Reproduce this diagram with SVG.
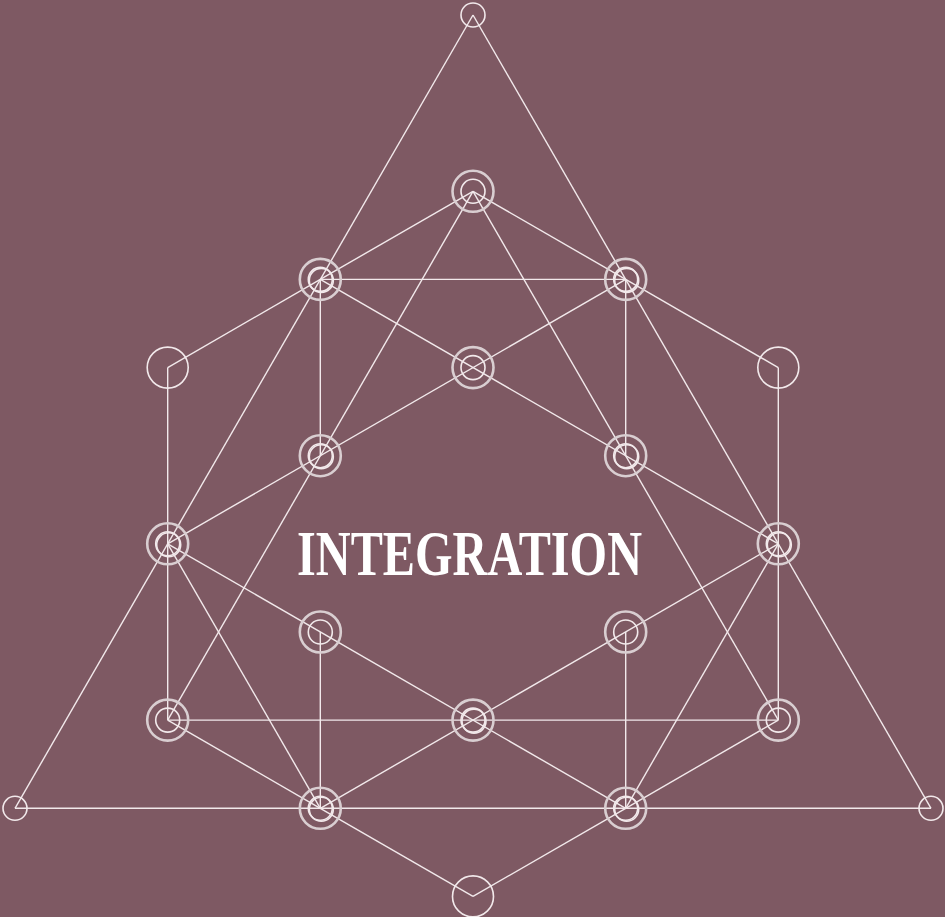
<svg xmlns="http://www.w3.org/2000/svg" width="945" height="917" viewBox="0 0 945 917">
<style>
.ln{stroke:#f2e9eb;stroke-width:1.4;fill:none}
.o{fill:none;stroke:#d9ced1;stroke-width:2.6}
.i{fill:none;stroke:#f2e9eb;stroke-width:1.6}
.s{fill:none;stroke:#f2e9eb;stroke-width:1.6}
.t{font-family:"Liberation Serif","DejaVu Serif",serif;font-size:64px;fill:#ffffff;font-weight:bold}
</style>
<rect width="945" height="917" fill="#7e5963"/>
<g id="connectors" class="ln">
<line x1="473" y1="15" x2="15" y2="808.3"/>
<line x1="473" y1="15" x2="931" y2="808.3"/>
<line x1="15" y1="808.3" x2="931" y2="808.3"/>
<line x1="473" y1="191.3" x2="167.7" y2="720.1"/>
<line x1="473" y1="191.3" x2="778.3" y2="720.1"/>
<line x1="167.7" y1="720.1" x2="778.3" y2="720.1"/>
<line x1="167.7" y1="543.8" x2="320.3" y2="808.3"/>
<line x1="778.3" y1="543.8" x2="625.7" y2="808.3"/>
<line x1="167.7" y1="367.6" x2="167.7" y2="720.1"/>
<line x1="778.3" y1="367.6" x2="778.3" y2="720.1"/>
<line x1="320.3" y1="279.4" x2="320.3" y2="455.7"/>
<line x1="625.7" y1="279.4" x2="625.7" y2="455.7"/>
<line x1="320.3" y1="632" x2="320.3" y2="808.3"/>
<line x1="625.7" y1="632" x2="625.7" y2="808.3"/>
<line x1="320.3" y1="279.4" x2="625.7" y2="279.4"/>
<line x1="473" y1="191.3" x2="320.3" y2="279.4"/>
<line x1="473" y1="191.3" x2="625.7" y2="279.4"/>
<line x1="167.7" y1="367.6" x2="320.3" y2="279.4"/>
<line x1="778.3" y1="367.6" x2="625.7" y2="279.4"/>
<line x1="320.3" y1="279.4" x2="778.3" y2="543.8"/>
<line x1="625.7" y1="279.4" x2="167.7" y2="543.8"/>
<line x1="167.7" y1="543.8" x2="625.7" y2="808.3"/>
<line x1="778.3" y1="543.8" x2="320.3" y2="808.3"/>
<line x1="167.7" y1="720.1" x2="320.3" y2="808.3"/>
<line x1="778.3" y1="720.1" x2="625.7" y2="808.3"/>
<line x1="320.3" y1="808.3" x2="473" y2="896.4"/>
<line x1="625.7" y1="808.3" x2="473" y2="896.4"/>
</g>
<g id="n-top"><circle class="s" cx="473" cy="15" r="12"/></g>
<g id="n-b"><circle class="o" cx="473" cy="191.3" r="20.5"/><circle class="i" cx="473" cy="191.3" r="12"/></g>
<g id="n-c1"><circle class="o" cx="320.3" cy="279.4" r="20.5"/><circle class="i" cx="320.3" cy="279.4" r="12"/><circle class="i" cx="321.3" cy="280.4" r="12"/></g>
<g id="n-c2"><circle class="o" cx="625.7" cy="279.4" r="20.5"/><circle class="i" cx="625.7" cy="279.4" r="12"/><circle class="i" cx="626.7" cy="280.4" r="12"/></g>
<g id="n-d1"><circle class="s" cx="167.7" cy="367.6" r="20.5"/></g>
<g id="n-d2"><circle class="s" cx="778.3" cy="367.6" r="20.5"/></g>
<g id="n-e"><circle class="o" cx="473" cy="367.6" r="20.5"/><circle class="i" cx="473" cy="367.6" r="12"/></g>
<g id="n-f1"><circle class="o" cx="320.3" cy="455.7" r="20.5"/><circle class="i" cx="320.3" cy="455.7" r="12"/><circle class="i" cx="321.3" cy="456.7" r="12"/></g>
<g id="n-f2"><circle class="o" cx="625.7" cy="455.7" r="20.5"/><circle class="i" cx="625.7" cy="455.7" r="12"/><circle class="i" cx="626.7" cy="456.7" r="12"/></g>
<g id="n-g1"><circle class="o" cx="167.7" cy="543.8" r="20.5"/><circle class="i" cx="167.7" cy="543.8" r="12"/><circle class="i" cx="168.7" cy="544.8" r="12"/></g>
<g id="n-g2"><circle class="o" cx="778.3" cy="543.8" r="20.5"/><circle class="i" cx="778.3" cy="543.8" r="12"/><circle class="i" cx="779.3" cy="544.8" r="12"/></g>
<g id="n-h1"><circle class="o" cx="320.3" cy="632" r="20.5"/><circle class="i" cx="320.3" cy="632" r="12"/></g>
<g id="n-h2"><circle class="o" cx="625.7" cy="632" r="20.5"/><circle class="i" cx="625.7" cy="632" r="12"/></g>
<g id="n-i1"><circle class="o" cx="167.7" cy="720.1" r="20.5"/><circle class="i" cx="167.7" cy="720.1" r="12"/></g>
<g id="n-i2"><circle class="o" cx="778.3" cy="720.1" r="20.5"/><circle class="i" cx="778.3" cy="720.1" r="12"/></g>
<g id="n-j"><circle class="o" cx="473" cy="720.1" r="20.5"/><circle class="i" cx="473" cy="720.1" r="12"/><circle class="i" cx="474" cy="721.1" r="12"/></g>
<g id="n-k1"><circle class="s" cx="15" cy="808.3" r="12"/></g>
<g id="n-k2"><circle class="s" cx="931" cy="808.3" r="12"/></g>
<g id="n-l1"><circle class="o" cx="320.3" cy="808.3" r="20.5"/><circle class="i" cx="320.3" cy="808.3" r="12"/><circle class="i" cx="321.3" cy="809.3" r="12"/></g>
<g id="n-l2"><circle class="o" cx="625.7" cy="808.3" r="20.5"/><circle class="i" cx="625.7" cy="808.3" r="12"/><circle class="i" cx="626.7" cy="809.3" r="12"/></g>
<g id="n-m"><circle class="s" cx="473" cy="896.4" r="20.5"/></g>
<g id="title"><text class="t" x="297" y="575" textLength="345" lengthAdjust="spacingAndGlyphs">INTEGRATION</text></g>
</svg>
